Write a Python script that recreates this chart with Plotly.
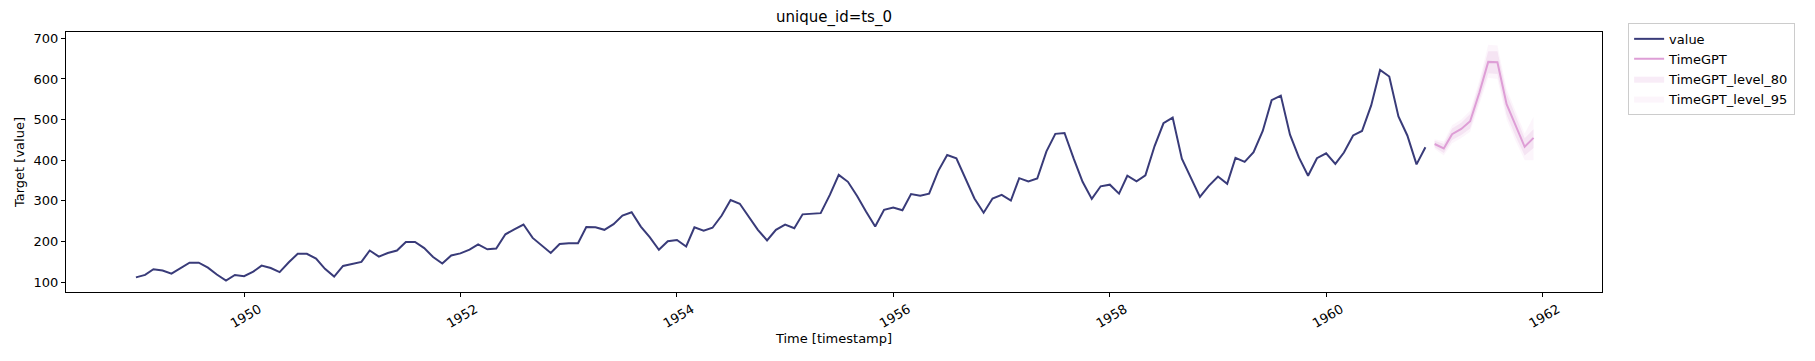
import plotly.graph_objects as go
import pandas as pd

# Historical series (monthly, 1949-01 .. 1960-12)
hist_values = [
    112, 118, 132, 129, 121, 135, 148, 148, 136, 119, 104, 118,
    115, 126, 141, 135, 125, 149, 170, 170, 158, 133, 114, 140,
    145, 150, 178, 163, 172, 178, 199, 199, 184, 162, 146, 166,
    171, 180, 193, 181, 183, 218, 230, 242, 209, 191, 172, 194,
    196, 196, 236, 235, 229, 243, 264, 272, 237, 211, 180, 201,
    204, 188, 235, 227, 234, 264, 302, 293, 259, 229, 203, 229,
    242, 233, 267, 269, 270, 315, 364, 347, 312, 274, 237, 278,
    284, 277, 317, 313, 318, 374, 413, 405, 355, 306, 271, 306,
    315, 301, 356, 348, 355, 422, 465, 467, 404, 347, 305, 336,
    340, 318, 362, 348, 363, 435, 491, 505, 404, 359, 310, 337,
    360, 342, 406, 396, 420, 472, 548, 559, 463, 407, 362, 405,
    417, 391, 419, 461, 472, 535, 622, 606, 508, 461, 390, 432,
]
hist_dates = pd.date_range("1949-01-01", periods=len(hist_values), freq="MS")

# Forecast (1961-01 .. 1961-12)
fc_dates = pd.date_range("1961-01-01", periods=12, freq="MS")
fc_values = [440, 429, 464, 477, 496, 566, 642, 641, 538, 485, 433, 455]
lo_80 = [432, 418, 450, 462, 478, 546, 614, 612, 512, 460, 412, 430]
hi_80 = [448, 440, 478, 492, 514, 586, 668, 668, 564, 510, 454, 476]
lo_95 = [428, 412, 442, 455, 470, 538, 603, 600, 500, 448, 400, 400]
hi_95 = [452, 446, 486, 500, 522, 596, 684, 682, 576, 522, 466, 507]

tick_years = ["1950", "1952", "1954", "1956", "1958", "1960", "1962"]

VALUE_COLOR = "#393b79"
FC_COLOR = "#de9ed6"

fig = go.Figure()

fig.add_trace(go.Scatter(x=hist_dates, y=hist_values, mode="lines",
                         line=dict(color=VALUE_COLOR, width=2), name="value", legendrank=1))
# 95 band
fig.add_trace(go.Scatter(x=fc_dates, y=lo_95, mode="lines", line=dict(width=0),
                         showlegend=False, hoverinfo="skip"))
fig.add_trace(go.Scatter(x=fc_dates, y=hi_95, mode="lines", line=dict(width=0),
                         fill="tonexty", fillcolor="rgba(222,158,214,0.10)",
                         name="TimeGPT_level_95", legendrank=4))
# 80 band
fig.add_trace(go.Scatter(x=fc_dates, y=lo_80, mode="lines", line=dict(width=0),
                         showlegend=False, hoverinfo="skip"))
fig.add_trace(go.Scatter(x=fc_dates, y=hi_80, mode="lines", line=dict(width=0),
                         fill="tonexty", fillcolor="rgba(222,158,214,0.20)",
                         name="TimeGPT_level_80", legendrank=3))

fig.add_trace(go.Scatter(x=fc_dates, y=fc_values, mode="lines",
                         line=dict(color=FC_COLOR, width=2), name="TimeGPT", legendrank=2))

font_family = "DejaVu Sans"

fig.update_layout(
    width=1815, height=361,
    margin=dict(l=66, r=213, t=32, b=69, autoexpand=False),
    paper_bgcolor="white", plot_bgcolor="white",
    font=dict(family=font_family, size=13, color="#000000"),
    title=dict(text="unique_id=ts_0", x=(66 + 1602) / 2 / 1815, xanchor="center",
               y=1 - 17 / 361, yanchor="middle", font=dict(size=15, color="#000")),
    showlegend=True,
    legend=dict(x=1.017, xanchor="left", y=1.035, yanchor="top",
                traceorder="normal",
                bgcolor="white", bordercolor="#cccccc", borderwidth=1,
                font=dict(size=13), tracegroupgap=2, itemwidth=30),
)

fig.update_xaxes(
    type="date",
    automargin=False,
    range=["1948-05-10", "1962-07-20"],
    tickvals=[f"{y}-01-01" for y in tick_years],
    ticktext=tick_years,
    tickangle=-30,
    ticklabelshift=15,
    ticks="outside", ticklen=4, tickcolor="#000", tickwidth=1,
    showline=True, linecolor="#000", linewidth=1, mirror=True,
    showgrid=False, zeroline=False,
    tickfont=dict(size=13),
    title=dict(text="Time [timestamp]", font=dict(size=13), standoff=4),
)
fig.update_yaxes(
    automargin=False,
    range=[76, 715.5],
    tickvals=[100, 200, 300, 400, 500, 600, 700],
    ticks="outside", ticklen=4, tickcolor="#000", tickwidth=1,
    showline=True, linecolor="#000", linewidth=1, mirror=True,
    showgrid=False, zeroline=False,
    tickfont=dict(size=13),
    title=dict(text="Target [value]", font=dict(size=13), standoff=6),
)

fig.write_html("out.html", config={"displayModeBar": False},
               post_script="document.body.style.margin='0px';document.body.style.overflow='hidden';")
